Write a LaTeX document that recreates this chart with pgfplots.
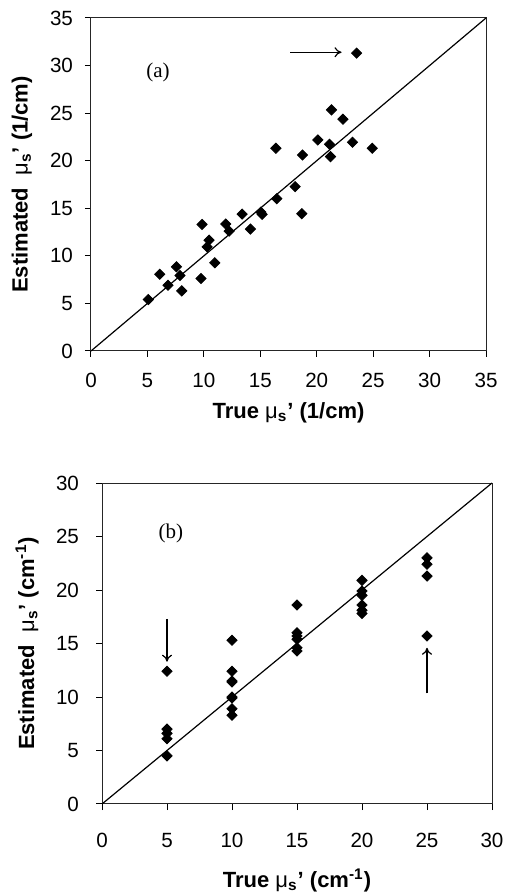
\documentclass[border=0pt]{standalone}
\usepackage{fontspec}
\setmainfont{Liberation Sans}
\newfontfamily\timesf{Liberation Serif}
\usepackage{pgfplots}
\pgfplotsset{compat=1.18}
\usetikzlibrary{arrows.meta}

\pgfplotsset{
  panel/.style={
    scale only axis,
    axis line style={line width=0.5pt, black!85},
    tick style={line width=0.5pt, black},
    tick align=outside,
    major tick length=3pt,
    xtick pos=left, ytick pos=left,
    /pgf/number format/assume math mode=true,
    ticklabel style={font=\fontsize{10.3}{12}\selectfont},
    label style={font=\fontsize{11}{13}\selectfont\bfseries},
    clip=false,
  },
  pts/.style={only marks, mark=square*, mark size=1.8pt,
    mark options={rotate=45, fill=black, draw=black}},
}

\begin{document}
\begin{tikzpicture}
\useasboundingbox (0,0) rectangle (253.5pt,447pt);

% ---- panel (a)
\begin{axis}[panel,
  at={(45.5pt,271.5pt)}, anchor=south west,
  width=197.5pt, height=166.5pt,
  xmin=0, xmax=35, ymin=0, ymax=35,
  xtick={0,5,...,35}, ytick={0,5,...,35},
  xticklabel style={yshift=-4.5pt},
  yticklabel style={xshift=-2.5pt},
  xlabel={True {\mdseries μ}\textsubscript{s}’ (1/cm)},
  ylabel={Estimated \ {\mdseries μ}\textsubscript{s}’ (1/cm)},
  xlabel style={at={(axis description cs:0.5,-0.186)}, anchor=center},
  ylabel style={at={(axis description cs:-0.175,0.5)}, anchor=center},
]
\addplot[black, line width=0.6pt] coordinates {(0,0) (35,35)};
\addplot[pts] coordinates {
  (5.08,5.41) (6.09,8.07) (6.83,6.91) (7.57,8.85) (7.89,7.93)
  (8.04,6.32) (9.75,7.62) (9.84,13.30) (10.29,10.95) (10.46,11.65)
  (10.97,9.27) (11.94,13.34) (12.24,12.60) (13.39,14.39) (14.13,12.81)
  (15.05,14.60) (15.16,14.36) (16.38,21.31) (16.46,16.01) (18.09,17.27)
  (18.68,14.43) (18.74,20.60) (20.10,22.18) (21.13,21.73) (21.22,20.43)
  (21.31,25.34) (22.32,24.36) (23.17,21.94) (23.53,31.31) (24.92,21.31)
};
\draw[-{To[length=3.5pt,width=5pt]}, line width=0.6pt] (axis cs:17.65,31.4) -- (axis cs:22.2,31.4);
\node[font=\timesf\fontsize{10.5}{12}\selectfont] at (axis cs:5.94,29.3) {(a)};
\end{axis}

% ---- panel (b)
\begin{axis}[panel,
  at={(51pt,45pt)}, anchor=south west,
  width=195pt, height=160.5pt,
  xmin=0, xmax=30, ymin=0, ymax=30,
  xtick={0,5,...,30}, ytick={0,5,...,30},
  xticklabel style={yshift=-8pt},
  yticklabel style={xshift=-5pt},
  xlabel={True {\mdseries μ}\textsubscript{s}’ (cm\textsuperscript{-1})},
  ylabel={Estimated \ {\mdseries μ}\textsubscript{s}’ (cm\textsuperscript{-1})},
  xlabel style={at={(axis description cs:0.5,-0.237)}, anchor=center},
  ylabel style={at={(axis description cs:-0.192,0.5)}, anchor=center},
]
\addplot[black, line width=0.6pt] coordinates {(0,0) (30,30)};
\addplot[pts] coordinates {
  (5,12.4) (5,7.0) (5,6.6) (5,6.1) (5,4.5)
  (10,15.3) (10,12.4) (10,11.5) (10,11.4) (10,10.0) (10,9.9) (10,8.9) (10,8.3)
  (15,18.6) (15,16.0) (15,15.7) (15,15.4) (15,14.6) (15,14.3)
  (20,20.9) (20,19.9) (20,19.5) (20,18.6) (20,18.1) (20,17.8)
  (25,23.0) (25,22.4) (25,21.3) (25,15.7)
};
\draw[-{To[length=3.5pt,width=5pt]}, line width=0.6pt] (axis cs:5,17.3) -- (axis cs:5,13.3);
\draw[-{To[length=3.5pt,width=5pt]}, line width=0.6pt] (axis cs:25,10.35) -- (axis cs:25,14.6);
\node[font=\timesf\fontsize{10.5}{12}\selectfont] at (axis cs:5.3,25.3) {(b)};
\end{axis}
\end{tikzpicture}
\end{document}
